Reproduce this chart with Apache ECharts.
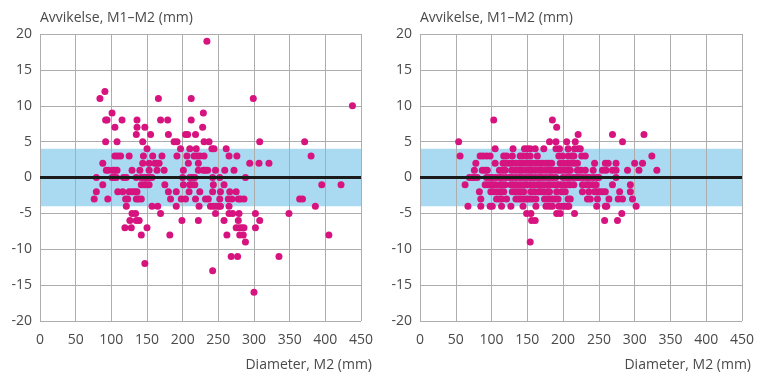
<!DOCTYPE html>
<html>
<head>
<meta charset="utf-8">
<script src="https://cdn.jsdelivr.net/npm/echarts@6/dist/echarts.min.js"></script>
<style>
html,body{margin:0;padding:0;background:#fff;}
#chart{width:768px;height:384px;}
</style>
</head>
<body>
<div id="chart"></div>
<script>
// ---- data (Diameter M2 in mm, deviation M1–M2 in mm) ----
const yAxisTitle = 'Avvikelse, M1–M2 (mm)';
const xAxisTitle = 'Diameter, M2 (mm)';
const bandLow = -4;
const bandHigh = 4;

const leftPoints = [
  [234,19],
  [91,12],
  [84,11],[166,11],[212,11],[299,11],
  [438,10],
  [101,9],[229,9],
  [92,8],[94,8],[115,8],[136,8],[169,8],[179,8],[212,8],
  [105,7],[136,7],[147,7],[228,7],
  [135,6],[155,6],[180,6],[204,6],[207,6],[218,6],
  [92,5],[108,5],[144,5],[188,5],[192,5],[230,5],[237,5],[308,5],[371,5],
  [150,4],[197,4],[210,4],[219,4],[241,4],[244,4],[261,4],
  [105,3],[109,3],[113,3],[125,3],[145,3],[158,3],[171,3],[192,3],[206,3],[216,3],[220,3],[224,3],[230,3],[265,3],[276,3],[380,3],
  [88,2],[144,2],[153,2],[161,2],[164,2],[167,2],[208,2],[222,2],[294,2],[307,2],[321,2],
  [93,1],[96,1],[102,1],[105,1],[108,1],[129,1],[140,1],[153,1],[164,1],[174,1],[201,1],[222,1],[229,1],[232,1],[235,1],[246,1],[259,1],[272,1],
  [79,0],[101,0],[104,0],[107,0],[117,0],[121,0],[135,0],[142,0],[146,0],[149,0],[153,0],[157,0],[200,0],[210,0],[213,0],[217,0],[242,0],[252,0],[288,0],
  [88,-1],[142,-1],[146,-1],[149,-1],[153,-1],[175,-1],[201,-1],[210,-1],[213,-1],[217,-1],[243,-1],[258,-1],[395,-1],[422,-1],
  [79,-2],[109,-2],[116,-2],[125,-2],[129,-2],[133,-2],[136,-2],[180,-2],[191,-2],[209,-2],[224,-2],[242,-2],[253,-2],[266,-2],[275,-2],
  [76,-3],[95,-3],[120,-3],[123,-3],[135,-3],[138,-3],[142,-3],[183,-3],[198,-3],[204,-3],[218,-3],[232,-3],[236,-3],[252,-3],[264,-3],[269,-3],[278,-3],[281,-3],[286,-3],[364,-3],[368,-3],
  [121,-4],[157,-4],[165,-4],[191,-4],[223,-4],[239,-4],[243,-4],[247,-4],[251,-4],[253,-4],[265,-4],[386,-4],
  [129,-5],[134,-5],[169,-5],[246,-5],[265,-5],[270,-5],[279,-5],[302,-5],[349,-5],
  [126,-6],[135,-6],[139,-6],[199,-6],[222,-6],[258,-6],[278,-6],[308,-6],
  [119,-7],[128,-7],[150,-7],[275,-7],[279,-7],[283,-7],[286,-7],[302,-7],
  [142,-8],[182,-8],[262,-8],[280,-8],[285,-8],[405,-8],
  [288,-9],
  [268,-11],[277,-11],[335,-11],
  [147,-12],
  [242,-13],
  [300,-16]
];

const rightPoints = [
  [103,8],[185,8],
  [191,7],
  [221,6],[269,6],[313,6],
  [54,5],[181,5],[190,5],[205,5],[217,5],[283,5],
  [105,4],[130,4],[146,4],[150,4],[154,4],[161,4],[173,4],[190,4],[195,4],[207,4],[216,4],[221,4],[224,4],
  [56,3],[84,3],[88,3],[93,3],[98,3],[117,3],[121,3],[129,3],[140,3],[144,3],[149,3],[154,3],[164,3],[194,3],[199,3],[207,3],[212,3],[215,3],[226,3],[231,3],[324,3],
  [78,2],[105,2],[116,2],[120,2],[125,2],[129,2],[134,2],[139,2],[143,2],[148,2],[153,2],[157,2],[162,2],[167,2],[171,2],[176,2],[180,2],[184,2],[196,2],[201,2],[206,2],[210,2],[215,2],[220,2],[244,2],[259,2],[263,2],[274,2],[300,2],[311,2],
  [76,1],[87,1],[91,1],[94,1],[111,1],[115,1],[119,1],[128,1],[133,1],[138,1],[142,1],[147,1],[152,1],[156,1],[161,1],[166,1],[170,1],[175,1],[180,1],[184,1],[189,1],[194,1],[198,1],[203,1],[207,1],[210,1],[220,1],[225,1],[231,1],[242,1],[255,1],[260,1],[269,1],[274,1],[290,1],[306,1],[331,1],
  [69,0],[73,0],[76,0],[80,0],[93,0],[97,0],[101,0],[106,0],[111,0],[115,0],[120,0],[125,0],[129,0],[134,0],[139,0],[143,0],[148,0],[153,0],[157,0],[162,0],[167,0],[171,0],[176,0],[181,0],[185,0],[190,0],[200,0],[205,0],[209,0],[214,0],[219,0],[223,0],[228,0],[233,0],[237,0],[242,0],[247,0],[250,0],[274,0],
  [63,-1],[91,-1],[95,-1],[99,-1],[102,-1],[106,-1],[112,-1],[115,-1],[119,-1],[127,-1],[131,-1],[135,-1],[140,-1],[145,-1],[149,-1],[154,-1],[159,-1],[164,-1],[168,-1],[173,-1],[178,-1],[182,-1],[187,-1],[192,-1],[196,-1],[201,-1],[206,-1],[210,-1],[215,-1],[227,-1],[232,-1],[236,-1],[241,-1],[246,-1],[269,-1],[294,-1],
  [83,-2],[99,-2],[103,-2],[108,-2],[113,-2],[117,-2],[129,-2],[133,-2],[137,-2],[141,-2],[145,-2],[155,-2],[160,-2],[166,-2],[169,-2],[173,-2],[178,-2],[181,-2],[191,-2],[198,-2],[203,-2],[227,-2],[236,-2],[244,-2],[247,-2],[251,-2],[255,-2],[259,-2],[279,-2],[294,-2],
  [85,-3],[107,-3],[111,-3],[114,-3],[121,-3],[134,-3],[138,-3],[141,-3],[145,-3],[149,-3],[153,-3],[157,-3],[162,-3],[174,-3],[178,-3],[181,-3],[185,-3],[189,-3],[193,-3],[207,-3],[210,-3],[234,-3],[238,-3],[248,-3],[264,-3],[277,-3],[283,-3],[297,-3],
  [67,-4],[85,-4],[98,-4],[101,-4],[114,-4],[127,-4],[144,-4],[162,-4],[176,-4],[181,-4],[185,-4],[194,-4],[198,-4],[202,-4],[206,-4],[208,-4],[247,-4],[259,-4],[261,-4],[302,-4],
  [149,-5],[155,-5],[191,-5],[196,-5],[216,-5],[282,-5],
  [156,-6],[161,-6],[258,-6],[276,-6],
  [154,-9]
];

// ---- styling ----
const FONT = "'Open Sans', 'Noto Sans', sans-serif";
const TEXT = '#4a4a4a';
const GRIDC = '#adadad';
const DOT = '#d6137f';
const BAND = '#a9daf1';

function xAxisFor(gi, gap) {
  return {
    gridIndex: gi, type: 'value', min: 0, max: 450, interval: 50, z: 2,
    axisLine: {show: false, onZero: false}, axisTick: {show: false},
    splitLine: {show: true, lineStyle: {color: GRIDC, width: 1}},
    axisLabel: {color: TEXT, fontFamily: FONT, fontSize: 14, margin: 12},
    name: xAxisTitle, nameLocation: 'end', nameGap: gap,
    nameTextStyle: {color: TEXT, fontFamily: FONT, fontSize: 14, align: 'right', verticalAlign: 'top', padding: [37, 0, 0, 0]}
  };
}
function yAxisFor(gi) {
  return {
    gridIndex: gi, type: 'value', min: -20, max: 20, interval: 5, z: 2,
    axisLine: {show: false, onZero: false}, axisTick: {show: false},
    splitLine: {show: true, lineStyle: {color: GRIDC, width: 1}},
    axisLabel: {color: TEXT, fontFamily: FONT, fontSize: 14, margin: 8},
    name: yAxisTitle, nameLocation: 'end', nameGap: 9,
    nameTextStyle: {color: TEXT, fontFamily: FONT, fontSize: 14, align: 'left', padding: [0, 0, 0, 0]}
  };
}
function panelSeries(i, pts) {
  return [
    {type: 'scatter', xAxisIndex: i, yAxisIndex: i, data: [], z: 1, silent: true,
     markArea: {silent: true, itemStyle: {color: BAND}, data: [[{yAxis: bandLow}, {yAxis: bandHigh}]]}},
    {type: 'scatter', xAxisIndex: i, yAxisIndex: i, data: [], z: 3, silent: true,
     markLine: {silent: true, symbol: 'none', label: {show: false},
       lineStyle: {color: '#1a1a1a', width: 3, type: 'solid'}, data: [{yAxis: 0}]}},
    {type: 'scatter', xAxisIndex: i, yAxisIndex: i, data: pts, z: 4,
     symbol: 'circle', symbolSize: 7, itemStyle: {color: DOT, opacity: 1}}
  ];
}

const chart = echarts.init(document.getElementById('chart'), null, {renderer: 'canvas'});
chart.setOption({
  animation: false,
  backgroundColor: '#fff',
  grid: [
    {left: 40, top: 34, width: 321, height: 287},
    {left: 420, top: 34, width: 322, height: 287}
  ],
  xAxis: [xAxisFor(0, 11), xAxisFor(1, 9)],
  yAxis: [yAxisFor(0), yAxisFor(1)],
  series: [].concat(panelSeries(0, leftPoints), panelSeries(1, rightPoints))
});
</script>
</body>
</html>
